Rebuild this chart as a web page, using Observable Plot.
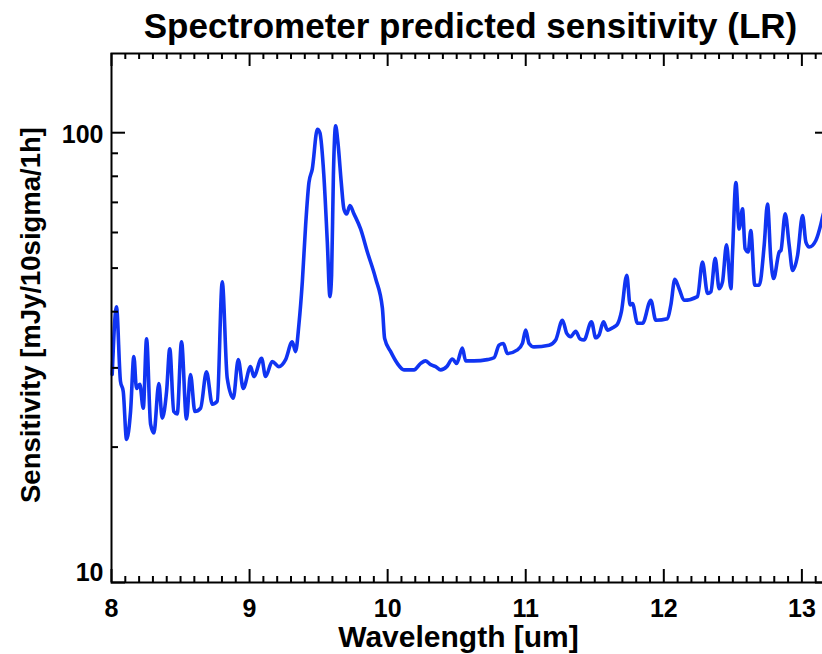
<!DOCTYPE html>
<html>
<head>
<meta charset="utf-8">
<script src="https://cdn.jsdelivr.net/npm/d3@7"></script>
<script src="https://cdn.jsdelivr.net/npm/@observablehq/plot@0.6"></script>
<style>
  html, body { margin: 0; padding: 0; background: white; overflow: hidden; }
  #chart { width: 822px; height: 654px; overflow: hidden; }
  #chart svg { max-width: none !important; display: block; }
</style>
</head>
<body>
<div id="chart"></div>
<script>
const wavelength = [8.005, 8.036, 8.065, 8.085, 8.109, 8.138, 8.162, 8.181, 8.205, 8.230,
  8.254, 8.283, 8.307, 8.343, 8.367, 8.399, 8.422, 8.451, 8.476, 8.507,
  8.543, 8.572, 8.604, 8.645, 8.688, 8.730, 8.766, 8.802, 8.838, 8.882,
  8.918, 8.954, 9.007, 9.031, 9.087, 9.116, 9.164, 9.212, 9.261, 9.309,
  9.333, 9.357, 9.382, 9.406, 9.430, 9.454, 9.491, 9.509, 9.538, 9.563,
  9.582, 9.594, 9.607, 9.623, 9.640, 9.664, 9.683, 9.703, 9.727, 9.756,
  9.804, 9.853, 9.913, 9.962, 9.978, 10.022, 10.070, 10.118, 10.191, 10.239,
  10.275, 10.312, 10.348, 10.384, 10.428, 10.469, 10.500, 10.541, 10.565, 10.625,
  10.722, 10.770, 10.807, 10.838, 10.867, 10.940, 10.976, 11.000, 11.024, 11.060,
  11.169, 11.217, 11.266, 11.297, 11.326, 11.362, 11.393, 11.422, 11.476, 11.507,
  11.531, 11.563, 11.592, 11.640, 11.664, 11.693, 11.732, 11.756, 11.773, 11.809,
  11.846, 11.906, 11.942, 12.027, 12.051, 12.080, 12.111, 12.147, 12.244, 12.280,
  12.317, 12.341, 12.372, 12.401, 12.425, 12.454, 12.486, 12.498, 12.522, 12.546,
  12.570, 12.589, 12.611, 12.630, 12.659, 12.691, 12.727, 12.751, 12.775, 12.795,
  12.836, 12.848, 12.879, 12.908, 12.933, 12.969, 13.005, 13.029, 13.053, 13.101,
  13.138, 13.152, 13.200];
const sensitivity = [29.0, 41.0, 28.0, 26.6, 20.8, 24.0, 31.8, 27.0, 27.6, 24.4,
  34.8, 22.5, 21.5, 27.7, 23.2, 26.6, 33.1, 24.0, 23.7, 34.3,
  23.1, 29.0, 24.0, 24.4, 29.4, 24.9, 25.3, 46.6, 28.5, 25.7,
  31.3, 27.0, 30.2, 28.7, 31.5, 28.7, 31.0, 30.2, 31.3, 34.3,
  32.6, 37.4, 46.6, 62.3, 77.5, 83.0, 101.7, 100.0, 80.3, 57.1,
  43.2, 48.3, 80.3, 103.6, 95.0, 77.5, 67.7, 66.0, 68.9, 66.0,
  61.1, 54.3, 47.4, 40.7, 34.9, 32.6, 30.7, 29.7, 29.7, 30.7,
  31.1, 30.5, 30.2, 29.7, 30.2, 31.4, 30.7, 33.2, 31.1, 31.1,
  31.3, 31.6, 33.7, 34.0, 32.3, 32.9, 34.0, 36.4, 34.0, 33.4,
  33.7, 34.6, 38.3, 35.8, 35.2, 36.2, 34.8, 34.6, 38.0, 35.0,
  35.5, 38.0, 36.4, 37.0, 37.5, 40.0, 48.2, 41.4, 41.7, 37.7,
  37.7, 42.4, 38.3, 38.6, 41.4, 47.2, 45.0, 42.4, 43.2, 51.6,
  43.9, 44.3, 52.6, 45.0, 46.6, 56.3, 45.0, 54.3, 77.5, 61.1,
  67.7, 55.2, 54.3, 60.6, 45.8, 45.8, 56.2, 69.4, 52.4, 47.4,
  54.3, 54.7, 66.0, 56.2, 49.4, 53.4, 65.4, 57.1, 55.7, 57.6,
  62.7, 65.4, 70.0];

const xMajorTicks = [8, 9, 10, 11, 12, 13];
const yMajorTicks = [10, 100];
const yMinorTicks = [20, 30, 40, 50, 60, 70, 80, 90];
const titleText = "Spectrometer predicted sensitivity (LR)";
const xLabel = "Wavelength [um]";
const yLabel = "Sensitivity [mJy/10sigma/1h]";

const xMinorTicks = d3.range(80, 132).map(d => d / 10).filter(d => !xMajorTicks.includes(d));
const data = wavelength.map((w, i) => ({w, s: sensitivity[i]}));

const W = 830, H = 654, mL = 111, mR = 1, mT = 53, mB = 72;
const plotW = W - mL - mR, plotH = H - mT - mB;
const font = "'Liberation Sans', Arial, Helvetica, sans-serif";
const ink = "black";

const chart = Plot.plot({
  width: W,
  height: H,
  marginLeft: mL,
  marginRight: mR,
  marginTop: mT,
  marginBottom: mB,
  x: {domain: [8, 13.2]},
  y: {type: "log", domain: [10, 150]},
  style: {fontFamily: font, color: ink, background: "white"},
  marks: [
    Plot.line(data, {x: "w", y: "s", stroke: "#1034f2", strokeWidth: 3.6, strokeLinejoin: "round", curve: "monotone-x"}),
    // inward ticks on bottom and top
    Plot.tickX(xMinorTicks, {x: d => d, insetTop: plotH - 6, stroke: ink, strokeWidth: 2}),
    Plot.tickX(xMajorTicks, {x: d => d, insetTop: plotH - 13, stroke: ink, strokeWidth: 2}),
    Plot.tickX(xMinorTicks, {x: d => d, insetBottom: plotH - 6, stroke: ink, strokeWidth: 2}),
    Plot.tickX(xMajorTicks, {x: d => d, insetBottom: plotH - 13, stroke: ink, strokeWidth: 2}),
    // inward ticks on left and right
    Plot.tickY(yMinorTicks, {y: d => d, insetRight: plotW - 7, stroke: ink, strokeWidth: 2}),
    Plot.tickY(yMajorTicks, {y: d => d, insetRight: plotW - 14, stroke: ink, strokeWidth: 2}),
    Plot.tickY(yMinorTicks, {y: d => d, insetLeft: plotW - 7, stroke: ink, strokeWidth: 2}),
    Plot.tickY(yMajorTicks, {y: d => d, insetLeft: plotW - 14, stroke: ink, strokeWidth: 2}),
    // x tick labels
    Plot.axisX({anchor: "bottom", ticks: xMajorTicks, tickSize: 0, tickPadding: 17, label: null, fontSize: 25, fontWeight: "bold", tickFormat: d => String(d)}),
    // y tick labels
    Plot.axisY({anchor: "left", ticks: [yMajorTicks[1]], tickSize: 0, tickPadding: 8, label: null, fontSize: 25, fontWeight: "bold", dy: 2, tickFormat: d => String(d)}),
    Plot.axisY({anchor: "left", ticks: [yMajorTicks[0]], tickSize: 0, tickPadding: 8, label: null, fontSize: 25, fontWeight: "bold", dy: -10, tickFormat: d => String(d)}),
    Plot.frame({stroke: ink, strokeWidth: 2}),
    // title and axis labels
    Plot.text([titleText], {frameAnchor: "top", dy: -27, lineAnchor: "middle", fontSize: 35, fontWeight: "bold", fill: ink}),
    Plot.text([xLabel], {frameAnchor: "bottom", dx: -12, dy: 55, lineAnchor: "middle", textAnchor: "middle", fontSize: 30, fontWeight: "bold", fill: ink}),
    Plot.text([yLabel], {frameAnchor: "left", dx: -80, dy: -3, rotate: -90, lineAnchor: "middle", textAnchor: "middle", fontSize: 27.5, fontWeight: "bold", fill: ink})
  ]
});
document.getElementById("chart").appendChild(chart);
</script>
</body>
</html>
